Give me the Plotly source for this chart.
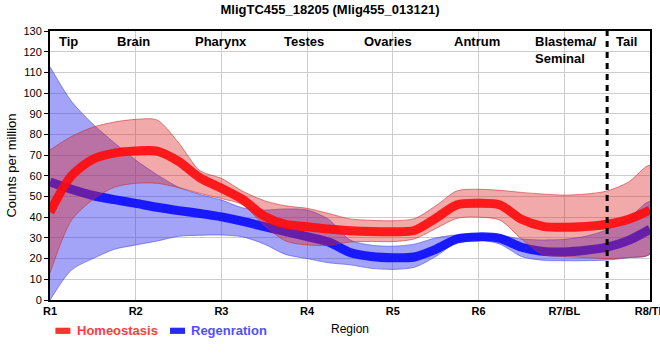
import plotly.graph_objects as go

# ---------------- data ----------------
positions = [i * 0.25 for i in range(29)]  # region axis position (0 = R1 ... 7 = R8)

homeo_mean = [42.5, 60, 68, 71, 72, 72, 67, 59, 54, 48.5, 40.5, 36.5, 35.4, 34.3, 33.5,
              33.1, 33, 33.6, 39.5, 46, 46.7, 45.9, 39, 35.6, 35.1, 35.5, 36.6, 39, 43.5]
homeo_upper = [72.5, 79, 83.5, 86, 87.3, 87, 76, 62.5, 58.8, 52.5, 48, 45.5, 44.3, 41.8, 39.2,
               38.5, 38.3, 39.3, 45.5, 52.8, 53.5, 53, 52, 51.2, 50.7, 51.2, 52.7, 57, 65]
homeo_lower = [13, 38.5, 48.5, 54.5, 56.4, 56.4, 54.3, 51.5, 49, 46, 36, 28.5, 26.6, 26.5, 28,
               28.3, 28.2, 29.5, 34.5, 39.5, 40, 38.6, 29.5, 22, 21, 20.5, 20, 20.5, 22.5]

regen_mean = [57, 53.5, 50.5, 48.5, 46.7, 44.8, 43.2, 41.8, 40.2, 38, 35.5, 33, 30.6, 28, 23,
              21, 20.4, 20.8, 24.5, 29.5, 30.5, 29.8, 25.5, 23.5, 23.2, 24, 25.5, 28.8, 34.2]
regen_upper = [112.7, 96, 85, 76, 67.6, 60.5, 54.5, 51, 48.3, 44.5, 43.5, 44, 43.5, 39, 29,
               26.5, 26, 27, 30, 31.5, 31.9, 31.3, 29.5, 29, 29.3, 30.8, 34, 39.5, 47.5]
regen_lower = [0, 14.5, 20, 24.5, 26.6, 28.5, 30.8, 31.3, 31.4, 30.5, 27, 22, 20, 18, 17,
               15.3, 14.8, 15.8, 21, 28, 29, 27, 21, 19.2, 19, 19, 19.3, 20.5, 22.2]

tick_positions = [0, 1, 2, 3, 4, 5, 6, 7]
tick_labels = ["R1", "R2", "R3", "R4", "R5", "R6", "R7/BL", "R8/TL"]

region_names = ["Tip", "Brain", "Pharynx", "Testes", "Ovaries", "Antrum", "Blastema/<br>Seminal", "Tail"]
region_label_x = [0.21, 0.97, 2.0, 2.96, 3.94, 4.98, 5.64, 6.72]
region_label_anchor = ["center"] * 6 + ["left", "center"]
boundary_x = 6.5

series_names = ["Homeostasis", "Regenration"]

FONT = "Arial, Liberation Sans, sans-serif"

fig = go.Figure()

def band(x, lo, hi, fill, edge):
    return go.Scatter(
        x=list(x) + list(x)[::-1], y=list(hi) + list(lo)[::-1],
        fill="toself", fillcolor=fill, mode="lines",
        line=dict(color=edge, width=1, shape="spline", smoothing=0.8),
        hoverinfo="skip", showlegend=False)

# Regeneration band + line
fig.add_trace(band(positions, regen_lower, regen_upper,
                   "rgba(50,50,240,0.45)", "rgba(60,60,230,0.55)"))
fig.add_trace(go.Scatter(x=positions, y=regen_mean, mode="lines", name=series_names[1],
                         line=dict(color="rgba(10,10,255,0.9)", width=9, shape="spline", smoothing=0.8),
                         showlegend=False))
# Homeostasis band + line
fig.add_trace(band(positions, homeo_lower, homeo_upper,
                   "rgba(220,40,40,0.4)", "rgba(200,40,40,0.55)"))
fig.add_trace(go.Scatter(x=positions, y=homeo_mean, mode="lines", name=series_names[0],
                         line=dict(color="rgba(255,10,10,0.9)", width=9, shape="spline", smoothing=0.8),
                         showlegend=False))

shapes = [
    dict(type="line", xref="x", yref="paper", x0=boundary_x, x1=boundary_x, y0=0, y1=1,
         line=dict(color="black", width=3, dash="6px,5px")),
    # legend swatches
    dict(type="rect", xref="paper", yref="paper", x0=0.009, x1=0.034, y0=-0.126, y1=-0.103,
         fillcolor="rgb(255,50,50)", line=dict(width=0)),
    dict(type="rect", xref="paper", yref="paper", x0=0.2, x1=0.225, y0=-0.126, y1=-0.103,
         fillcolor="rgb(40,40,255)", line=dict(width=0)),
]

annotations = []
for name, xp, anc in zip(region_names, region_label_x, region_label_anchor):
    annotations.append(dict(x=xp, y=1, xref="x", yref="paper", text="<b>%s</b>" % name,
                            showarrow=False, xanchor=anc, yanchor="top", yshift=-1, align="left",
                            font=dict(family=FONT, size=13, color="black")))
annotations.append(dict(x=0.041, y=-0.115, xref="paper", yref="paper", text="<b>%s</b>" % series_names[0],
                        showarrow=False, xanchor="left", yanchor="middle",
                        font=dict(family=FONT, size=13, color="rgb(255,60,60)")))
annotations.append(dict(x=0.232, y=-0.115, xref="paper", yref="paper", text="<b>%s</b>" % series_names[1],
                        showarrow=False, xanchor="left", yanchor="middle",
                        font=dict(family=FONT, size=13, color="rgb(80,80,255)")))

fig.update_layout(
    template="none",
    width=660, height=360,
    margin=dict(l=50, r=10, t=31, b=60),
    paper_bgcolor="white", plot_bgcolor="white",
    hovermode=False,
    title=dict(text="<b>MligTC455_18205 (Mlig455_013121)</b>", x=0.5, xanchor="center",
               y=0.975, yanchor="middle", font=dict(family=FONT, size=13, color="black")),
    font=dict(family=FONT, size=11, color="black"),
    showlegend=False,
    shapes=shapes,
    annotations=annotations,
    xaxis=dict(range=[0, 7], tickvals=tick_positions,
               ticktext=["<b>%s</b>" % t for t in tick_labels],
               tickfont=dict(family=FONT, size=11, color="black"),
               ticklabeloverflow="allow",
               showgrid=True, gridcolor="#cccccc", gridwidth=1,
               showline=True, linecolor="black", linewidth=2, mirror=True,
               ticks="", zeroline=False, automargin=False,
               title=dict(text="Region", font=dict(family=FONT, size=12, color="black"), standoff=8)),
    yaxis=dict(range=[0, 130], tickvals=list(range(0, 131, 10)),
               tickfont=dict(family=FONT, size=11, color="black"),
               showgrid=True, gridcolor="#cccccc", gridwidth=1,
               showline=True, linecolor="black", linewidth=2, mirror=True,
               ticks="outside", ticklen=4, tickcolor="black", zeroline=False, automargin=False,
               title=dict(text="Counts per million", font=dict(family=FONT, size=13, color="black"),
                          standoff=4)),
)

fig.write_html("out.html", config={"displayModeBar": False, "staticPlot": True},
               post_script="document.body.style.margin='0';")
